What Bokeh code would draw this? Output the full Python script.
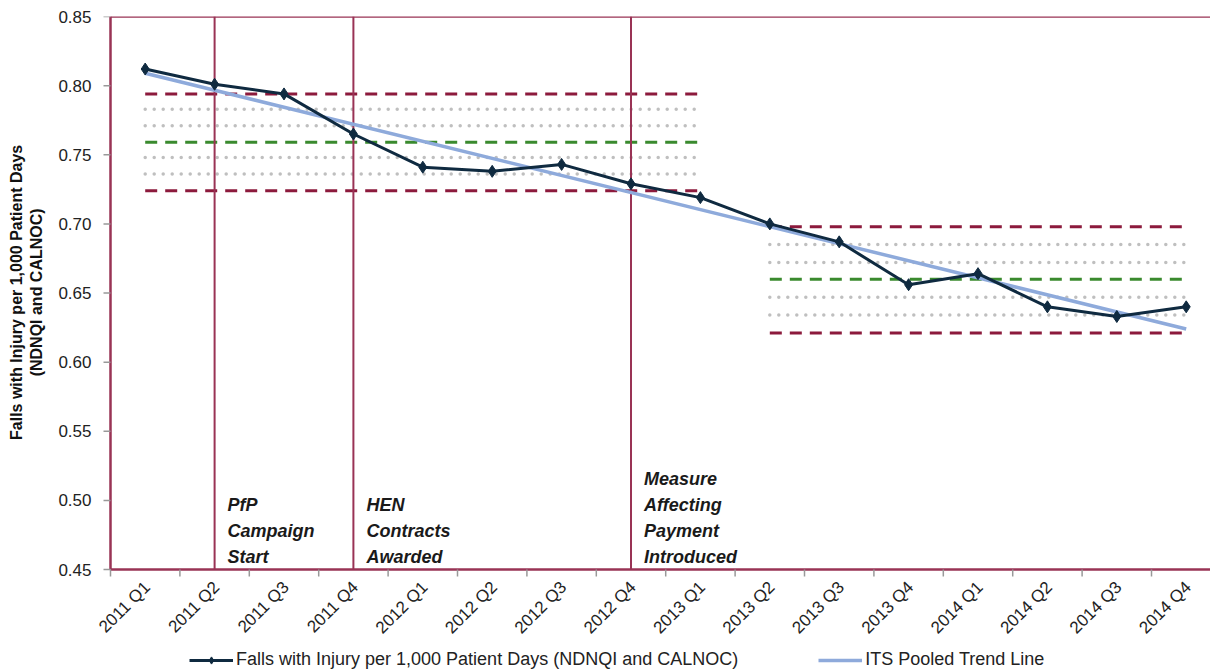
import numpy as np
from bokeh.plotting import figure
from bokeh.models import (Range1d, FixedTicker, Span, Legend, LegendItem,
                          ColumnDataSource, NumeralTickFormatter)
from bokeh.core.properties import value
from bokeh.embed import file_html
from bokeh.resources import INLINE
from math import pi

# ---------------- data ----------------
quarters = ["2011 Q1", "2011 Q2", "2011 Q3", "2011 Q4",
            "2012 Q1", "2012 Q2", "2012 Q3", "2012 Q4",
            "2013 Q1", "2013 Q2", "2013 Q3", "2013 Q4",
            "2014 Q1", "2014 Q2", "2014 Q3", "2014 Q4"]
falls = [0.812, 0.801, 0.794, 0.765, 0.741, 0.738, 0.743, 0.729,
         0.719, 0.700, 0.687, 0.656, 0.664, 0.640, 0.633, 0.640]

trend_quarters = ["2011 Q1", "2014 Q4"]
trend_values = [0.809, 0.624]

period1_span = ["2011 Q1", "2013 Q1"]
period1_limits = [0.794, 0.783, 0.771, 0.759, 0.748, 0.736, 0.724]
period2_span = ["2013 Q2", "2014 Q4"]
period2_limits = [0.698, 0.685, 0.672, 0.660, 0.647, 0.634, 0.621]
limit_kinds = ["limit", "sigma", "sigma", "mean", "sigma", "sigma", "limit"]

event_quarters = ["2011 Q2", "2011 Q4", "2012 Q4"]
event_labels = ["PfP\nCampaign\nStart",
                "HEN\nContracts\nAwarded",
                "Measure\nAffecting\nPayment\nIntroduced"]

y_ticks = [0.45, 0.50, 0.55, 0.60, 0.65, 0.70, 0.75, 0.80, 0.85]

series_label = "Falls with Injury per 1,000 Patient Days (NDNQI and CALNOC)"
trend_label = "ITS Pooled Trend Line"
y_label_lines = ["Falls with Injury per 1,000 Patient Days", "(NDNQI and CALNOC)"]

# ---------------- styles ----------------
FONT = "Liberation Sans"
NAVY = "#0f2a40"
LIGHT_BLUE = "#8eaadb"
BORDER = "#993355"
MAROON = "#8c1a3c"
GREEN = "#3a8a2e"
DOTS = "#bfbfbf"
TICK = "#999999"

def xpos(q):
    return quarters.index(q) + 0.5

centers = [xpos(q) for q in quarters]
boundaries = list(range(len(quarters) + 1))

y_lo, y_hi = y_ticks[0], y_ticks[-1]
PLOT_PX = 553            # pixel height of the 0.45-0.85 plot box
FRAME_PX = 654           # frame extends below the box to hold labels + legend
px_per_unit = PLOT_PX / (y_hi - y_lo)
y_bottom = y_hi - FRAME_PX / px_per_unit

PX_PER_CAT = 1100 / 15.85
LEFT_PAD_PX = 18         # room left of the box for the first rotated label
FRAME_W = 1118
x_start = -LEFT_PAD_PX / PX_PER_CAT
x_end = x_start + FRAME_W / PX_PER_CAT

p = figure(frame_width=FRAME_W, frame_height=FRAME_PX,
           x_range=Range1d(x_start, x_end), y_range=Range1d(y_bottom, y_hi),
           output_backend="svg", toolbar_location=None,
           min_border_left=92, min_border_right=0, min_border_top=16,
           min_border_bottom=0)
p.outline_line_color = None
p.grid.visible = False
p.background_fill_color = "white"
p.border_fill_color = "white"

# control limit lines
for span, limits in ((period1_span, period1_limits), (period2_span, period2_limits)):
    xs = [xpos(span[0]), xpos(span[1])]
    for v, kind in zip(limits, limit_kinds):
        if kind == "limit":
            p.line(xs, [v, v], line_color=MAROON, line_width=3, line_dash="12 8")
        elif kind == "mean":
            p.line(xs, [v, v], line_color=GREEN, line_width=3, line_dash="12 8")
        else:
            p.line(xs, [v, v], line_color=DOTS, line_width=3.5, line_dash="0 9",
                   line_cap="round")

# plot box borders
p.segment(x0=[0, 0, 0], y0=[y_hi, y_lo, y_lo], x1=[x_end, x_end, 0],
          y1=[y_hi, y_lo, y_hi], line_color=BORDER, line_width=2.5)

# event vertical lines
ev_x = [xpos(q) for q in event_quarters]
p.segment(x0=ev_x, y0=[y_lo] * len(ev_x), x1=ev_x, y1=[y_hi] * len(ev_x),
          line_color=BORDER, line_width=2)

# event annotations
src = ColumnDataSource(dict(x=ev_x, y=[y_lo] * len(ev_x), t=event_labels))
p.text("x", "y", text="t", source=src, x_offset=13, y_offset=-3,
       text_font=value(FONT), text_font_size="18px", text_font_style="bold italic",
       text_color="#1a1a1a", text_baseline="bottom", text_align="left",
       text_line_height=1.3)

# category axis: tick marks at boundaries, rotated labels at centres
p.ray(x=boundaries, y=[y_lo] * len(boundaries), length=7, length_units="screen",
      angle=-pi / 2, line_color=TICK, line_width=1.5)
p.text(x=centers, y=[y_lo] * len(centers), text=quarters, angle=pi / 4,
       x_offset=2, y_offset=15, text_align="right", text_baseline="middle",
       text_font=value(FONT), text_font_size="17px", text_color="#222222")

# value-axis tick marks on the box edge
p.ray(x=[0] * len(y_ticks), y=y_ticks, length=7, length_units="screen",
      angle=pi, line_color=TICK, line_width=1.5)

# trend line
trend_r = p.line([xpos(q) for q in trend_quarters], trend_values,
                 line_color=LIGHT_BLUE, line_width=3.5)

# main series
main_line = p.line(centers, falls, line_color=NAVY, line_width=3)
main_pts = p.scatter(centers, falls, marker="diamond", size=12,
                     fill_color=NAVY, line_color=NAVY)

# axes
p.xaxis.visible = False

ya = p.yaxis[0]
ya.ticker = FixedTicker(ticks=y_ticks)
ya.bounds = (y_lo, y_hi)
ya.formatter = NumeralTickFormatter(format="0.00")
ya.major_tick_out = 0
ya.major_tick_in = 0
ya.minor_tick_out = 0
ya.minor_tick_in = 0
ya.axis_line_color = None
ya.major_label_text_font = FONT
ya.major_label_text_font_size = "17px"
ya.major_label_text_color = "#222222"
ya.major_label_standoff = 1
# leading no-break spaces lift the centred label up to the middle of the 0.45-0.85 box
pad = "\u00a0" * 23
ya.axis_label = "\n".join(pad + line for line in y_label_lines)
ya.axis_label_text_font = FONT
ya.axis_label_text_font_size = "16px"
ya.axis_label_text_font_style = "bold"
ya.axis_label_text_color = "#111111"
ya.axis_label_standoff = 10

legend = Legend(items=[LegendItem(label=series_label, renderers=[main_line, main_pts]),
                       LegendItem(label=trend_label, renderers=[trend_r])],
                orientation="horizontal", location=(LEFT_PAD_PX + 79, 0),
                label_text_font=FONT, label_text_font_size="18px",
                label_text_color="#222222", glyph_width=44, glyph_height=18,
                label_height=18, label_standoff=3,
                spacing=80, padding=2, margin=0, border_line_color=None,
                background_fill_alpha=0)
p.add_layout(legend, "center")

open("out.html", "w").write(file_html(p, INLINE))
